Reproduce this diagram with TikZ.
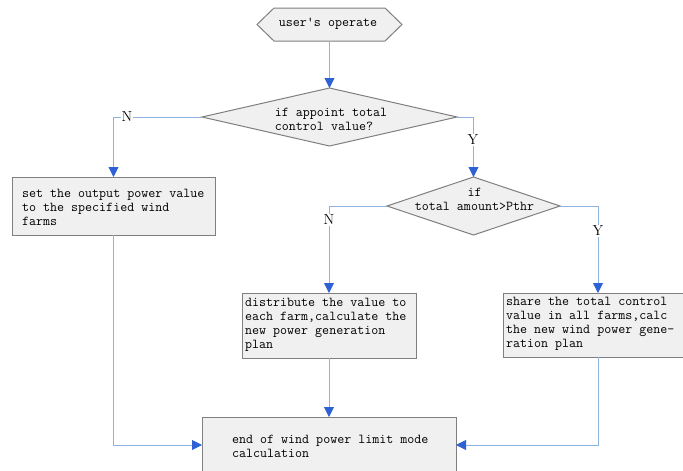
\documentclass[tikz,border=0pt]{standalone}
\usetikzlibrary{arrows.meta,shapes.geometric}
\definecolor{boxfill}{HTML}{F0F0F0}
\definecolor{boxline}{HTML}{7F7F7F}
\definecolor{lineblue}{HTML}{8DB3E2}
\definecolor{tipblue}{HTML}{2E62D4}
\begin{document}
\begin{tikzpicture}[x=1pt,y=-1pt,
  shapebox/.style={draw=boxline,fill=boxfill,line width=1pt,inner sep=0pt,outer sep=0pt},
  txt/.style={font=\ttfamily\fontsize{13.6}{14}\selectfont,align=left,inner sep=0pt,anchor=west},
  conn/.style={draw=lineblue,line width=0.9pt},
  arr/.style={conn,-{Triangle[width=10pt,length=10pt,color=tipblue]}},
  lab/.style={font=\fontsize{14.5}{15}\selectfont,fill=white,inner sep=1pt}]
\useasboundingbox (0,0) rectangle (683,471);
\clip (0,0) rectangle (683,471);
% start hexagon
\node[inner sep=0pt,outer sep=0pt,minimum width=145pt,minimum height=33pt] (hex) at (329.5,24.5) {};
\filldraw[shapebox] (hex.west) -- ([xshift=17pt]hex.north west) -- ([xshift=-17pt]hex.north east)
  -- (hex.east) -- ([xshift=-17pt]hex.south east) -- ([xshift=17pt]hex.south west) -- cycle;
\node[txt,anchor=center] (hext) at (328,23.5) {user's operate};
% decisions
\node[diamond,shapebox,minimum width=255pt,minimum height=58pt] (d1) at (329.5,117) {};
\node[txt,anchor=center] (d1t) at (331,119.5) {if appoint total\\control value?};
\node[diamond,shapebox,minimum width=173pt,minimum height=58pt] (d2) at (473.5,206) {};
\node[txt,anchor=center,align=center] (d2t) at (474.5,199) {if\\total amount>Pthr};
% boxes
\node[rectangle,shapebox,minimum width=203pt,minimum height=58pt] (b1) at (113.5,206) {};
\node[txt] (b1t) at (22,207) {set the output power value\\to the specified wind\\farms};
\node[rectangle,shapebox,minimum width=174pt,minimum height=65pt] (b2) at (329,325.5) {};
\node[txt] (b2t) at (245,325) {distribute the value to\\each farm,calculate the\\new power generation\\plan};
\node[rectangle,shapebox,minimum width=180pt,minimum height=64pt] (b3) at (593,325) {};
\node[txt] (b3t) at (506,324) {share the total control\\value in all farms,calc\\the new wind power gene-\\ration plan};
\node[rectangle,shapebox,minimum width=254pt,minimum height=56pt] (e) at (329,445) {};
\node[txt] (et) at (232,446) {end of wind power limit mode\\calculation};
% connectors
\coordinate (c3) at (598,206);
\draw[arr] (hex.south) -- (d1.north);
\draw[arr] (d1.west) -| (b1.north);
\draw[arr] (d1.east) -| (d2.north);
\draw[arr] (d2.west) -| (b2.north);
\draw[arr] (d2.east) -- (c3) -- (c3 |- b3.north);
\draw[arr] (b2.south) -- (e.north);
\draw[arr] (b1.south) |- (e.west);
\draw[arr] (b3.south -| c3) |- (e.east);
% labels
\node[lab] (n1) at (127,117) {N};
\node[lab] (y1) at (473,140) {Y};
\node[lab] (n2) at (329,220) {N};
\node[lab] (y2) at (598,231) {Y};
\end{tikzpicture}
\end{document}
